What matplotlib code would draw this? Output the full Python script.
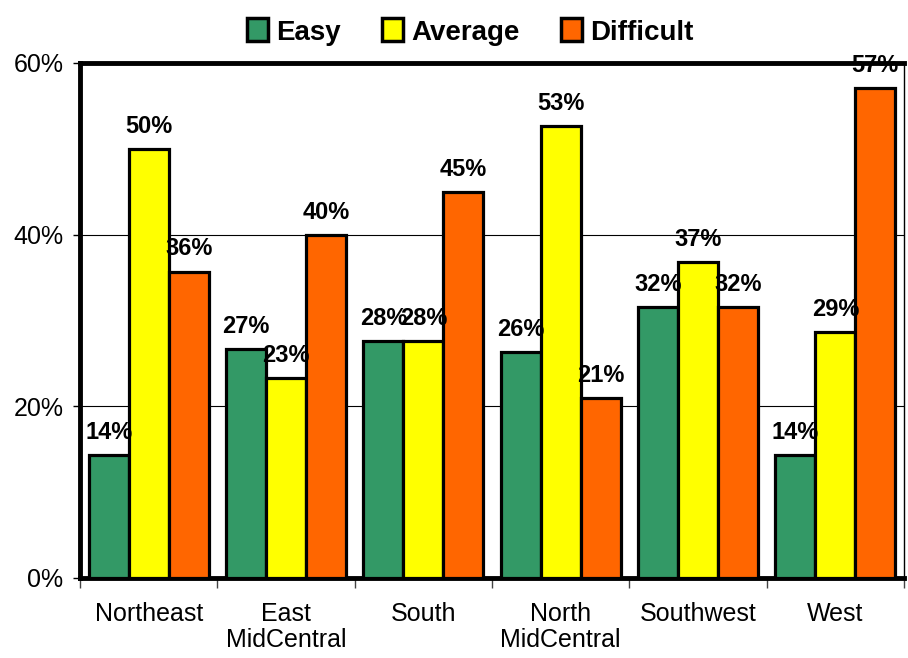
import numpy as np
import matplotlib.pyplot as plt
from matplotlib.ticker import FuncFormatter

plt.rcParams['font.family'] = ['Liberation Sans', 'DejaVu Sans']

regions = ['Northeast', 'East\nMidCentral', 'South', 'North\nMidCentral', 'Southwest', 'West']
easy = [0.143, 0.267, 0.276, 0.263, 0.316, 0.143]
average = [0.500, 0.233, 0.276, 0.527, 0.368, 0.286]
difficult = [0.357, 0.400, 0.450, 0.210, 0.316, 0.571]

series = [('Easy', easy, '#339966'),
          ('Average', average, '#FFFF00'),
          ('Difficult', difficult, '#FF6600')]

fig = plt.figure(figsize=(9.08, 6.58), dpi=100)
ax = fig.add_axes([0.0881, 0.1216, 0.9075, 0.7827])

x = np.arange(len(regions))
w = 0.291
for k, (name, vals, col) in enumerate(series):
    pos = x + (k - 1) * w
    ax.bar(pos, vals, width=w, color=col, edgecolor='black', linewidth=2.3,
           label=name, zorder=3)
    for xi, v in zip(pos, vals):
        ax.annotate(f'{round(v * 100):.0f}%', (xi, v), xytext=(0, 8),
                    textcoords='offset points', ha='center', va='bottom',
                    fontsize=17, fontweight='bold', zorder=5,
                    annotation_clip=False)

ax.set_xlim(-0.5, len(regions) - 0.5)
ax.set_ylim(0, 0.6)
ax.set_yticks([0, 0.2, 0.4, 0.6])
ax.yaxis.set_major_formatter(FuncFormatter(lambda v, p: f'{v * 100:.0f}%'))
ax.tick_params(axis='y', labelsize=18, length=5, width=1, direction='out', pad=7)
ax.grid(axis='y', color='black', linewidth=0.8, zorder=1)

ax.set_xticks(x)
ax.set_xticklabels(regions, fontsize=18, linespacing=1.15)
ax.tick_params(axis='x', which='major', length=0, pad=17)
ax.set_xticks(np.arange(-0.5, len(regions) + 0.5, 1), minor=True)
ax.tick_params(axis='x', which='minor', length=7, width=1, color='#444444')

for side in ['left', 'top', 'bottom']:
    ax.spines[side].set_linewidth(3.5)
ax.spines['right'].set_linewidth(1)

leg = fig.legend(loc='upper center', bbox_to_anchor=(0.518, 1.01), ncol=3,
                 frameon=False, prop={'size': 20, 'weight': 'bold'},
                 handlelength=0.75, handleheight=0.9, handletextpad=0.3,
                 columnspacing=1.5)
for h in leg.legend_handles:
    h.set_linewidth(2.5)

fig.savefig('out.png', dpi=100)
